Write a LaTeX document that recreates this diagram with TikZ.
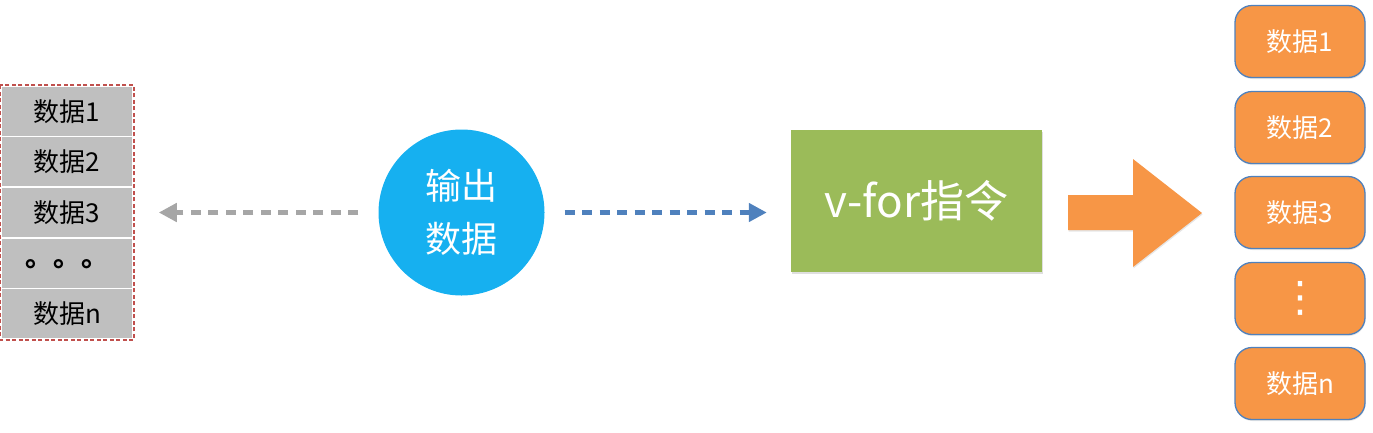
\documentclass[tikz,border=0pt]{standalone}
\usepackage{fontspec}
\newfontfamily\cjk{Noto Sans CJK SC}
\newfontfamily\djv{DejaVu Sans}
\usetikzlibrary{arrows.meta,shadows}
\definecolor{cblue}{HTML}{16B0F0}
\definecolor{cgreen}{HTML}{9BBB59}
\definecolor{corange}{HTML}{F79646}
\definecolor{cgray}{HTML}{BFBFBF}
\definecolor{cred}{HTML}{C0504D}
\definecolor{cline}{HTML}{4F81BD}
\definecolor{carrgray}{HTML}{A6A6A6}
\tikzset{
  row/.style={fill=cgray, draw=white, line width=1.5pt, minimum width=132pt, minimum height=50.6pt, inner sep=0pt, font=\cjk\fontsize{26}{30}\selectfont, text=black},
  rbox/.style={rounded corners=17pt, fill=corange, draw=cline, line width=1.3pt, minimum width=130pt, minimum height=72pt, inner sep=0pt, text=white, font=\cjk\fontsize{26}{30}\selectfont, drop shadow={opacity=0.2, shadow xshift=0.5pt, shadow yshift=-1.5pt}},
  dasharrow/.style={line width=5pt, dash pattern=on 10pt off 7.5pt, -{Triangle[length=18pt,width=18pt]}},
}
\begin{document}
\begin{tikzpicture}[x=1pt,y=-1pt]
\useasboundingbox (0,0) rectangle (1373,432);
% left stack
\node[row] (r1) at (67,111.3) {数据1};
\node[row] (r2) at (67,161.9) {数据2};
\node[row] (r3) at (67,212.5) {数据3};
\node[row, font=\cjk\bfseries\fontsize{28}{30}\selectfont] (r4) at (67,263.1) {\raisebox{-9pt}{。。。}};
\node[row] (r5) at (67,313.7) {数据n};
\draw[cred, line width=2pt, dash pattern=on 4pt off 2.5pt] (r1.north west) rectangle (r5.south east);
% circle
\node[circle, fill=cblue, minimum size=166pt, inner sep=0pt, text=white, align=center,
      font=\cjk\fontsize{36}{53}\selectfont] (circ) at (461.5,212.5) {输出\\数据};
% green box
\node[fill=cgreen, minimum width=251pt, minimum height=142pt, inner sep=0pt, text=white,
      font=\cjk\fontsize{44}{50}\selectfont,
      drop shadow={opacity=0.25, shadow xshift=0.5pt, shadow yshift=-2pt}] (vfor) at (916.5,201) {v-for指令};
% dashed arrows
\draw[dasharrow, carrgray, shorten <=20pt, shorten >=25pt] (circ.west) -- (circ.west -| r3.east);
\draw[dasharrow, cline, shorten <=20pt, shorten >=24pt] (circ.east) -- (circ.east -| vfor.west);
% block arrow
\fill[corange, drop shadow={opacity=0.2, shadow xshift=0.5pt, shadow yshift=-1.5pt}]
  (1068,195) -- (1133,195) -- (1133,159) -- (1202,213) -- (1133,267) -- (1133,230) -- (1068,230) -- cycle;
% right boxes
\node[rbox] (b1) at (1300,41.5) {数据1};
\node[rbox] (b2) at (1300,127.5) {数据2};
\node[rbox] (b3) at (1300,212.5) {数据3};
\node[rbox, font=\djv\fontsize{42}{44}\selectfont] (b4) at (1300,298.5) {⋮};
\node[rbox] (b5) at (1300,383.5) {数据n};
\end{tikzpicture}
\end{document}
